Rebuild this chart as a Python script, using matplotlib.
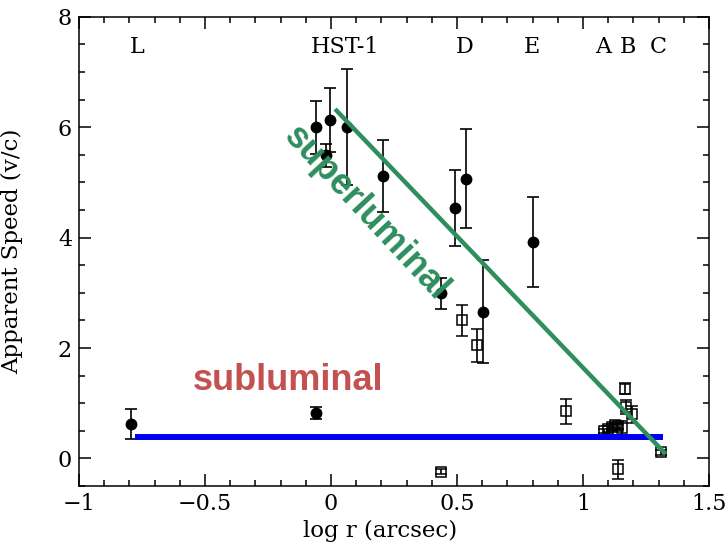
import numpy as np
import matplotlib.pyplot as plt
from matplotlib.ticker import MultipleLocator

plt.rcParams['font.family'] = 'DejaVu Serif'

# superluminal knots (filled circles)
x_fast = [-0.795, -0.06, -0.06, -0.02, -0.005, 0.065, 0.206, 0.438, 0.491, 0.534, 0.603, 0.802]
y_fast = [0.62, 0.82, 6.00, 5.49, 6.14, 6.01, 5.11, 2.99, 4.54, 5.07, 2.66, 3.92]
e_fast = [0.27, 0.11, 0.48, 0.21, 0.58, 1.05, 0.65, 0.28, 0.69, 0.89, 0.94, 0.81]

# slower features (open squares)
x_slow = [0.435, 0.518, 0.581, 0.933, 1.085, 1.10, 1.115, 1.125, 1.14, 1.155, 1.14, 1.165, 1.17, 1.196, 1.308]
y_slow = [-0.24, 2.50, 2.05, 0.85, 0.50, 0.53, 0.57, 0.60, 0.58, 0.55, -0.20, 1.26, 0.93, 0.80, 0.11]
e_slow = [0.05, 0.28, 0.30, 0.22, 0.04, 0.05, 0.05, 0.05, 0.05, 0.12, 0.18, 0.10, 0.12, 0.15, 0.04]

knot_names = ['L', 'HST-1', 'D', 'E', 'A', 'B', 'C']
knot_x = [-0.77, 0.056, 0.532, 0.798, 1.079, 1.179, 1.298]

super_x = [0.016, 1.328]
super_y = [6.33, 0.08]
sub_x = [-0.778, 1.317]
sub_y = [0.39, 0.39]

fig = plt.figure(figsize=(7.28, 5.44), dpi=100)
ax = fig.add_axes([0.1085, 0.1066, 0.8655, 0.8624])

ax.errorbar(x_fast, y_fast, yerr=e_fast, fmt='o', color='black', ms=7.5,
            capsize=4.3, elinewidth=1.2, capthick=1.2, zorder=3)
ax.errorbar(x_slow, y_slow, yerr=e_slow, fmt='s', color='black', mfc='none',
            mew=1.1, ms=7.5, capsize=4.3, elinewidth=1.2, capthick=1.2, zorder=3)

ax.plot(sub_x, sub_y, color='#0000F0', lw=4.3, solid_capstyle='butt', zorder=4)
ax.plot(super_x, super_y, color='#2E8E5E', lw=3.2, solid_capstyle='butt', zorder=5)

for name, kx in zip(knot_names, knot_x):
    ax.text(kx, 7.45, name, ha='center', va='center', fontsize=16)

ax.text(-0.169, 1.41, 'subluminal', color='#C45050', fontsize=26,
        fontweight='bold', family='Liberation Sans', ha='center', va='center')
ax.text(0.14, 4.44, 'superluminal', color='#2E8E5E', fontsize=26,
        fontweight='bold', family='Liberation Sans', ha='center', va='center',
        rotation=-47, rotation_mode='anchor', zorder=6)

ax.set_xlim(-1, 1.5)
ax.set_ylim(-0.5, 8)
ax.xaxis.set_major_locator(MultipleLocator(0.5))
ax.xaxis.set_minor_locator(MultipleLocator(0.1))
ax.yaxis.set_major_locator(MultipleLocator(2))
ax.yaxis.set_minor_locator(MultipleLocator(0.5))
ax.set_xticks([-1, -0.5, 0, 0.5, 1, 1.5])
ax.set_xticklabels(['\u22121', '\u22120.5', '0', '0.5', '1', '1.5'])
ax.tick_params(which='both', direction='in', top=True, right=True, width=1.1, labelsize=16)
ax.tick_params(which='major', length=8.5, pad=5)
ax.tick_params(which='minor', length=4.5)
for s in ax.spines.values():
    s.set_linewidth(1.1)

ax.set_xlabel('log r (arcsec)', fontsize=16.5)
ax.set_ylabel('Apparent Speed (v/c)', fontsize=16.5)
ax.xaxis.set_label_coords(0.478, -0.072)
ax.yaxis.set_label_coords(-0.088, 0.5)

fig.savefig('out.png', dpi=100)
